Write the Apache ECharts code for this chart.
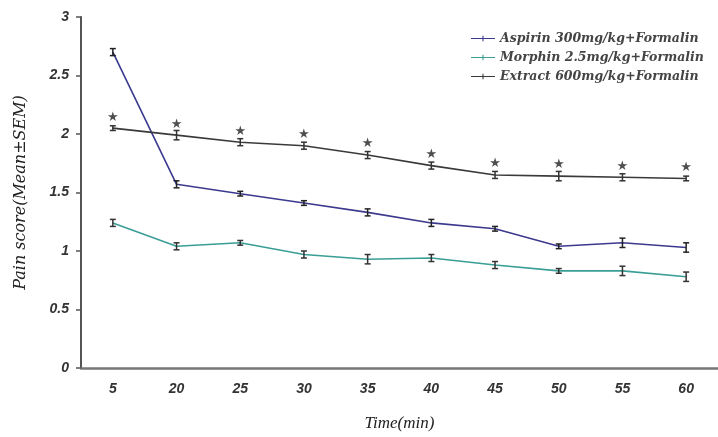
<!DOCTYPE html>
<html>
<head>
<meta charset="utf-8">
<script src="https://cdn.jsdelivr.net/npm/echarts@6/dist/echarts.min.js"></script>
<style>
  html, body { margin: 0; padding: 0; background: #fff; }
  #main { width: 718px; height: 437px; }
</style>
</head>
<body>
<div id="main"></div>
<script>
// time points (min)
const times = ['5', '20', '25', '30', '35', '40', '45', '50', '55', '60']

const aspirin = [2.70, 1.57, 1.49, 1.41, 1.33, 1.24, 1.19, 1.04, 1.07, 1.03]
const aspirinSem = [0.03, 0.03, 0.02, 0.02, 0.03, 0.03, 0.02, 0.02, 0.04, 0.04]

const morphin = [1.24, 1.04, 1.07, 0.97, 0.93, 0.94, 0.88, 0.83, 0.83, 0.78]
const morphinSem = [0.03, 0.03, 0.02, 0.03, 0.04, 0.03, 0.03, 0.02, 0.04, 0.04]

const extract = [2.05, 1.99, 1.93, 1.90, 1.82, 1.73, 1.65, 1.64, 1.63, 1.62]
const extractSem = [0.02, 0.04, 0.03, 0.03, 0.03, 0.03, 0.03, 0.04, 0.03, 0.02]

const names = ['Aspirin 300mg/kg+Formalin', 'Morphin 2.5mg/kg+Formalin', 'Extract 600mg/kg+Formalin']
const colors = ['#3c3a8e', '#3a9e96', '#3a3a3a']

let myChart = echarts.init(document.getElementById('main'))

function errorSeries(vals, sem, color) {
   return {
      type: 'custom',
      z: 5,
      silent: true,
      data: vals.map((v, i) => [i, v - sem[i], v + sem[i]]),
      renderItem: function (params, api) {
         let lo = api.coord([api.value(0), api.value(1)])
         let hi = api.coord([api.value(0), api.value(2)])
         let w = 3
         let st = { stroke: color, lineWidth: 1.5 }
         return {
            type: 'group',
            children: [
               { type: 'line', shape: { x1: lo[0], y1: lo[1], x2: hi[0], y2: hi[1] }, style: st },
               { type: 'line', shape: { x1: lo[0] - w, y1: lo[1], x2: lo[0] + w, y2: lo[1] }, style: st },
               { type: 'line', shape: { x1: hi[0] - w, y1: hi[1], x2: hi[0] + w, y2: hi[1] }, style: st }
            ]
         }
      }
   }
}

function lineSeries(name, vals, color) {
   return {
      name: name,
      type: 'line',
      data: vals,
      symbol: 'none',
      lineStyle: { color: color, width: 1.6 },
      itemStyle: { color: color },
      z: 4
   }
}

const legendIcon = 'path://M0,3.4h26v1.2h-26zM12.4,1h1.2v6h-1.2z'

myChart.setOption({
   animation: false,
   grid: { left: 81, top: 17, width: 649, height: 352 },
   legend: {
      orient: 'vertical',
      left: 466,
      top: 27,
      itemGap: 6,
      itemWidth: 24,
      itemHeight: 13,
      data: names.map((n, i) => ({ name: n, icon: legendIcon, itemStyle: { color: colors[i] } })),
      textStyle: {
         fontFamily: 'DejaVu Serif',
         fontStyle: 'italic',
         fontWeight: 'bold',
         fontSize: 12.5,
         color: '#444'
      }
   },
   xAxis: {
      type: 'category',
      data: times,
      boundaryGap: true,
      name: 'Time(min)',
      nameLocation: 'middle',
      nameGap: 47,
      nameTextStyle: {
         fontFamily: 'Liberation Serif',
         fontStyle: 'italic',
         fontSize: 17,
         color: '#222'
      },
      axisLine: { lineStyle: { color: '#777', width: 2.5 } },
      axisTick: { show: false },
      axisLabel: {
         margin: 14,
         fontFamily: 'Liberation Sans',
         fontStyle: 'italic',
         fontWeight: 'bold',
         fontSize: 14,
         color: '#333'
      }
   },
   yAxis: {
      type: 'value',
      min: 0,
      max: 3,
      interval: 0.5,
      name: 'Pain score(Mean±SEM)',
      nameLocation: 'middle',
      nameGap: 52,
      nameTextStyle: {
         fontFamily: 'DejaVu Serif',
         fontStyle: 'italic',
         fontSize: 16,
         color: '#222'
      },
      splitLine: { show: false },
      axisLine: { show: true, lineStyle: { color: '#555', width: 2 } },
      axisTick: { show: true, length: 5, lineStyle: { color: '#555', width: 1.5 } },
      axisLabel: {
         margin: 12,
         fontFamily: 'Liberation Sans',
         fontStyle: 'italic',
         fontWeight: 'bold',
         fontSize: 14,
         color: '#333'
      }
   },
   series: [
      lineSeries(names[0], aspirin, colors[0]),
      lineSeries(names[1], morphin, colors[1]),
      lineSeries(names[2], extract, colors[2]),
      errorSeries(aspirin, aspirinSem, '#222'),
      errorSeries(morphin, morphinSem, '#333'),
      errorSeries(extract, extractSem, '#333'),
      {
         // significance stars above the extract points
         type: 'scatter',
         silent: true,
         data: extract,
         symbol: 'circle',
         symbolSize: 1,
         itemStyle: { color: 'rgba(0,0,0,0)' },
         label: {
            show: true,
            formatter: '★',
            position: 'top',
            distance: 4,
            fontSize: 13,
            fontFamily: 'DejaVu Sans',
            color: '#222'
         },
         z: 6
      }
   ]
})
</script>
</body>
</html>
